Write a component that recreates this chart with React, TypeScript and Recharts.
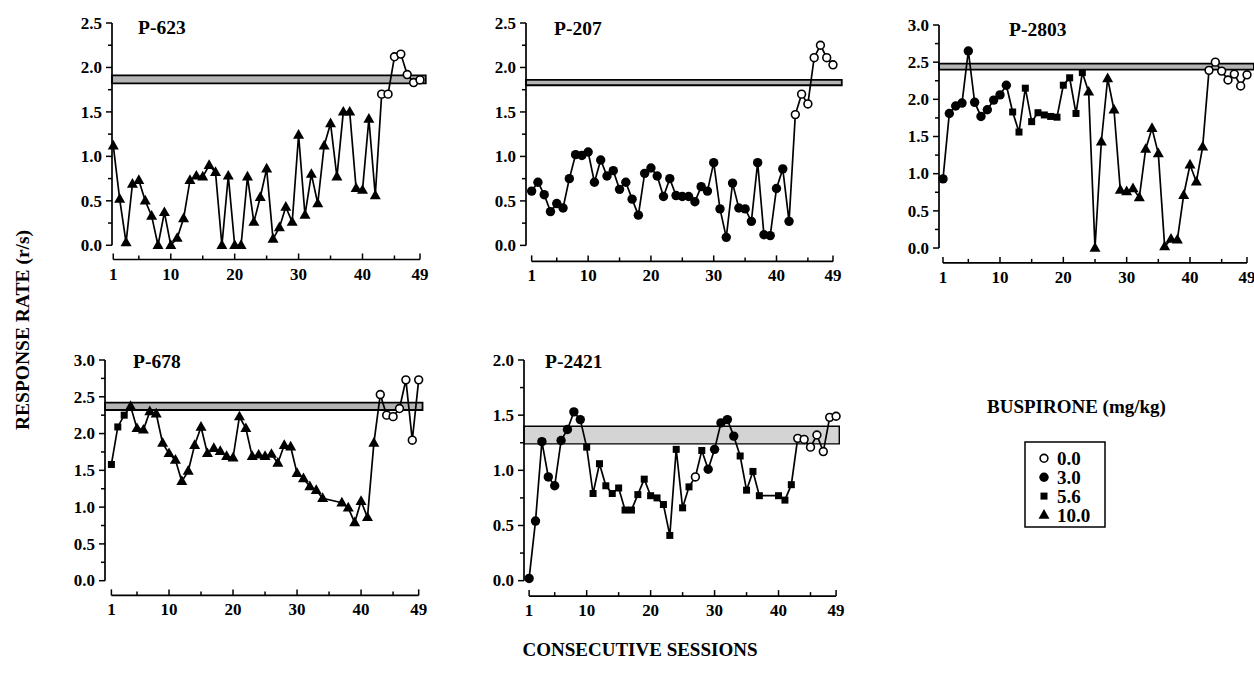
import React from 'react';
import { LineChart, Line, XAxis, YAxis, ReferenceArea, ReferenceLine } from 'recharts';

const FONT = "'Liberation Serif', 'Times New Roman', Times, serif";

// ---------- categories & ticks ----------
const SESSIONS = [
  1, 2, 3, 4, 5, 6, 7, 8, 9, 10, 11, 12, 13, 14, 15, 16, 17, 18, 19, 20,
  21, 22, 23, 24, 25, 26, 27, 28, 29, 30, 31, 32, 33, 34, 35, 36, 37, 38, 39, 40,
  41, 42, 43, 44, 45, 46, 47, 48, 49,
];
const X_TICKS = [1, 5, 10, 15, 20, 25, 30, 35, 40, 45, 49];
const X_LABELED = [1, 10, 20, 30, 40, 49];
const Y_TICKS_20 = [0, 0.25, 0.5, 0.75, 1, 1.25, 1.5, 1.75, 2];
const Y_TICKS_25 = [0, 0.25, 0.5, 0.75, 1, 1.25, 1.5, 1.75, 2, 2.25, 2.5];
const Y_TICKS_30 = [0, 0.25, 0.5, 0.75, 1, 1.25, 1.5, 1.75, 2, 2.25, 2.5, 2.75, 3];

const DOSE_LEVELS = [0, 3, 5.6, 10];
const DOSE_LABELS = ['0.0', '3.0', '5.6', '10.0'];

// ---------- series: response rate (r/s) per session ----------
const P623_RATE = [
  1.12, 0.52, 0.03, 0.69, 0.73, 0.5, 0.33, 0.0, 0.37, 0.0,
  0.08, 0.3, 0.73, 0.78, 0.77, 0.9, 0.82, 0.0, 0.78, 0.0,
  0.0, 0.77, 0.26, 0.54, 0.86, 0.07, 0.2, 0.43, 0.26, 1.24,
  0.34, 0.8, 0.47, 1.12, 1.37, 0.77, 1.5, 1.5, 0.64, 0.62,
  1.42, 0.56, 1.7, 1.7, 2.12, 2.15, 1.92, 1.83, 1.86,
];
const P623_DOSE = [
  10, 10, 10, 10, 10, 10, 10, 10, 10, 10,
  10, 10, 10, 10, 10, 10, 10, 10, 10, 10,
  10, 10, 10, 10, 10, 10, 10, 10, 10, 10,
  10, 10, 10, 10, 10, 10, 10, 10, 10, 10,
  10, 10, 0, 0, 0, 0, 0, 0, 0,
];

const P207_RATE = [
  0.61, 0.71, 0.57, 0.38, 0.47, 0.42, 0.75, 1.02, 1.01, 1.05,
  0.71, 0.96, 0.78, 0.84, 0.63, 0.71, 0.52, 0.34, 0.81, 0.87,
  0.78, 0.55, 0.75, 0.56, 0.55, 0.55, 0.49, 0.66, 0.61, 0.93,
  0.41, 0.09, 0.7, 0.42, 0.41, 0.27, 0.93, 0.12, 0.11, 0.64,
  0.86, 0.27, 1.47, 1.7, 1.59, 2.11, 2.25, 2.11, 2.03,
];
const P207_DOSE = [
  3, 3, 3, 3, 3, 3, 3, 3, 3, 3,
  3, 3, 3, 3, 3, 3, 3, 3, 3, 3,
  3, 3, 3, 3, 3, 3, 3, 3, 3, 3,
  3, 3, 3, 3, 3, 3, 3, 3, 3, 3,
  3, 3, 0, 0, 0, 0, 0, 0, 0,
];

const P2803_RATE = [
  0.93, 1.81, 1.91, 1.95, 2.65, 1.96, 1.77, 1.86, 1.99, 2.06,
  2.19, 1.83, 1.56, 2.15, 1.7, 1.82, 1.79, 1.77, 1.76, 2.19,
  2.29, 1.81, 2.36, 2.1, 0.0, 1.43, 2.28, 1.86, 0.78, 0.76,
  0.8, 0.68, 1.33, 1.61, 1.27, 0.02, 0.12, 0.11, 0.71, 1.12,
  0.89, 1.36, 2.39, 2.5, 2.38, 2.26, 2.34, 2.18, 2.33,
];
const P2803_DOSE = [
  3, 3, 3, 3, 3, 3, 3, 3, 3, 3,
  3, 5.6, 5.6, 5.6, 5.6, 5.6, 5.6, 5.6, 5.6, 5.6,
  5.6, 5.6, 5.6, 10, 10, 10, 10, 10, 10, 10,
  10, 10, 10, 10, 10, 10, 10, 10, 10, 10,
  10, 10, 0, 0, 0, 0, 0, 0, 0,
];

const P678_RATE = [
  1.58, 2.09, 2.25, 2.37, 2.07, 2.05, 2.3, 2.27, 1.87, 1.73,
  1.64, 1.35, 1.49, 1.84, 2.09, 1.73, 1.8, 1.76, 1.69, 1.67,
  2.23, 2.07, 1.69, 1.71, 1.69, 1.72, 1.6, 1.84, 1.82, 1.46,
  1.39, 1.28, 1.23, 1.12, null, null, 1.06, 0.99, 0.79, 1.08,
  0.86, 1.87, 2.53, 2.25, 2.23, 2.34, 2.73, 1.91, 2.73,
];
const P678_DOSE = [
  5.6, 5.6, 5.6, 10, 10, 10, 10, 10, 10, 10,
  10, 10, 10, 10, 10, 10, 10, 10, 10, 10,
  10, 10, 10, 10, 10, 10, 10, 10, 10, 10,
  10, 10, 10, 10, 10, 10, 10, 10, 10, 10,
  10, 10, 0, 0, 0, 0, 0, 0, 0,
];

const P2421_RATE = [
  0.02, 0.54, 1.26, 0.94, 0.86, 1.27, 1.37, 1.53, 1.46, 1.21,
  0.79, 1.06, 0.86, 0.79, 0.84, 0.64, 0.64, 0.78, 0.92, 0.77,
  0.75, 0.69, 0.41, 1.19, 0.66, 0.85, 0.94, 1.18, 1.01, 1.19,
  1.43, 1.46, 1.31, 1.13, 0.82, 0.99, 0.77, null, null, 0.77,
  0.73, 0.87, 1.29, 1.28, 1.21, 1.32, 1.17, 1.48, 1.49,
];
const P2421_DOSE = [
  3, 3, 3, 3, 3, 3, 3, 3, 3, 5.6,
  5.6, 5.6, 5.6, 5.6, 5.6, 5.6, 5.6, 5.6, 5.6, 5.6,
  5.6, 5.6, 5.6, 5.6, 5.6, 5.6, 0, 5.6, 3, 3,
  3, 3, 3, 5.6, 5.6, 5.6, 5.6, 5.6, 5.6, 5.6,
  5.6, 5.6, 0, 0, 0, 0, 0, 0, 0,
];

// baseline (saline) ranges shown as shaded bands
const P623_BAND = [1.82, 1.91];
const P207_BAND = [1.8, 1.86];
const P2803_BAND = [2.4, 2.48];
const P678_BAND = [2.32, 2.42];
const P2421_BAND = [1.24, 1.4];

// ---------- layout ----------
type Panel = {
  name: string;
  rate: (number | null)[];
  dose: number[];
  band: number[];
  yMax: number;
  yTicks: number[];
  plotLeft: number;
  plotTop: number;
  plotW: number;
  plotH: number;
  xLeft: number;
  yLow: number;
  bandEnd: number;
  mr: number;
  bandFill: string;
  bandStroke: number;
  titleX: number;
  titleY: number;
};

const PANELS: Panel[] = [
  {
    name: 'P-623', rate: P623_RATE, dose: P623_DOSE, band: P623_BAND, yMax: 2.5, yTicks: Y_TICKS_25,
    plotLeft: 112, plotTop: 22.7, plotW: 308, plotH: 236.5, xLeft: 0.8, yLow: -0.16, bandEnd: 49.9, mr: 20,
    bandFill: '#b4b4b4', bandStroke: 1.8, titleX: 138, titleY: 33.5,
  },
  {
    name: 'P-207', rate: P207_RATE, dose: P207_DOSE, band: P207_BAND, yMax: 2.5, yTicks: Y_TICKS_25,
    plotLeft: 526, plotTop: 23.3, plotW: 307, plotH: 238.4, xLeft: 0.1, yLow: -0.18, bandEnd: 50.4, mr: 20,
    bandFill: '#b4b4b4', bandStroke: 1.8, titleX: 554, titleY: 34.5,
  },
  {
    name: 'P-2803', rate: P2803_RATE, dose: P2803_DOSE, band: P2803_BAND, yMax: 3, yTicks: Y_TICKS_30,
    plotLeft: 939, plotTop: 25, plotW: 308, plotH: 237.9, xLeft: 0.37, yLow: -0.2, bandEnd: 50.1, mr: 7,
    bandFill: '#b4b4b4', bandStroke: 1.8, titleX: 1009, titleY: 36,
  },
  {
    name: 'P-678', rate: P678_RATE, dose: P678_DOSE, band: P678_BAND, yMax: 3, yTicks: Y_TICKS_30,
    plotLeft: 105.3, plotTop: 360, plotW: 313.7, plotH: 235.4, xLeft: 0, yLow: -0.2, bandEnd: 49.6, mr: 20,
    bandFill: '#b4b4b4', bandStroke: 1.8, titleX: 133, titleY: 368.3,
  },
  {
    name: 'P-2421', rate: P2421_RATE, dose: P2421_DOSE, band: P2421_BAND, yMax: 2, yTicks: Y_TICKS_20,
    plotLeft: 523.9, plotTop: 360, plotW: 312.1, plotH: 236.1, xLeft: 0.2, yLow: -0.14, bandEnd: 49.5, mr: 20,
    bandFill: '#d4d4d4', bandStroke: 1.4, titleX: 545, titleY: 368.3,
  },
];

const ML = 10;
const YW = 50;
const MT = 10;
const XH = 30;

function marker(dose: number, cx: number, cy: number, key?: any) {
  if (dose === 0) {
    return <circle key={key} cx={cx} cy={cy} r={3.9} fill="#fff" stroke="#000" strokeWidth={1.6} />;
  }
  if (dose === 3) {
    return <circle key={key} cx={cx} cy={cy} r={4.7} fill="#000" />;
  }
  if (dose === 5.6) {
    return <rect key={key} x={cx - 3.5} y={cy - 3.5} width={7} height={7} fill="#000" />;
  }
  return (
    <polygon
      key={key}
      points={`${cx},${cy - 6} ${cx - 5.5},${cy + 3.7} ${cx + 5.5},${cy + 3.7}`}
      fill="#000"
    />
  );
}

const renderDot = (p: any) => {
  const key = p.index;
  if (p.cx == null || p.cy == null || !Number.isFinite(p.cx) || !Number.isFinite(p.cy) || p.payload == null || p.payload.v == null) {
    return <g key={key} />;
  }
  return marker(p.payload.d, p.cx, p.cy, key);
};

const XTick = (props: any) => {
  const { x, y, payload } = props;
  const v = payload.value;
  const major = X_LABELED.includes(v);
  return (
    <g>
      <line x1={x} x2={x} y1={y} y2={y - (major ? 6 : 4)} stroke="#000" strokeWidth={1.5} />
      {major && (
        <text x={x} y={y + 20} textAnchor="middle" fontFamily={FONT} fontWeight="bold" fontSize={17} fill="#000">
          {v}
        </text>
      )}
    </g>
  );
};

const YTick = (props: any) => {
  const { x, y, payload } = props;
  const v = payload.value;
  const major = Math.abs(v * 2 - Math.round(v * 2)) < 1e-6;
  return (
    <g>
      <line x1={x} x2={x - (major ? 6 : 4)} y1={y} y2={y} stroke="#000" strokeWidth={1.5} />
      {major && (
        <text x={x - 10} y={y + 5.8} textAnchor="end" fontFamily={FONT} fontWeight="bold" fontSize={17} fill="#000">
          {v.toFixed(1)}
        </text>
      )}
    </g>
  );
};

function PanelChart({ p }: { p: Panel }) {
  const data = SESSIONS.map((s, i) => ({ s, v: p.rate[i], d: p.dose[i] }));
  const width = ML + YW + p.plotW + p.mr;
  const height = MT + p.plotH + XH;
  return (
    <div style={{ position: 'absolute', left: p.plotLeft - ML - YW, top: p.plotTop - MT }}>
      <LineChart width={width} height={height} data={data} margin={{ top: MT, right: p.mr, bottom: 0, left: ML }}>
        <XAxis
          dataKey="s"
          type="number"
          domain={[p.xLeft, 49]}
          ticks={X_TICKS}
          interval={0}
          axisLine={false}
          tickLine={false}
          tickSize={0}
          tickMargin={0}
          height={XH}
          tick={(tp: any) => <XTick {...tp} />}
        />
        <YAxis
          type="number"
          domain={[p.yLow, p.yMax]}
          ticks={p.yTicks}
          interval={0}
          axisLine={false}
          tickLine={false}
          tickSize={0}
          tickMargin={0}
          width={YW}
          tick={(tp: any) => <YTick {...tp} />}
        />
        <ReferenceArea
          x1={p.xLeft}
          x2={p.bandEnd}
          y1={p.band[0]}
          y2={p.band[1]}
          ifOverflow="visible"
          fill={p.bandFill}
          fillOpacity={1}
          stroke="#000"
          strokeWidth={p.bandStroke}
        />
        <ReferenceLine
          segment={[{ x: p.xLeft, y: 0 }, { x: p.xLeft, y: p.yMax }]}
          ifOverflow="visible"
          stroke="#000"
          strokeWidth={1.7}
        />
        <ReferenceLine
          segment={[{ x: 1, y: p.yLow }, { x: 49, y: p.yLow }]}
          ifOverflow="visible"
          stroke="#000"
          strokeWidth={1.7}
        />
        <Line
          type="linear"
          dataKey="v"
          stroke="#000"
          strokeWidth={1.7}
          connectNulls
          dot={renderDot}
          activeDot={false}
          isAnimationActive={false}
        />
      </LineChart>
    </div>
  );
}

export default function App() {
  return (
    <div style={{ position: 'absolute', left: 0, top: 0, width: 1254, height: 681, background: '#fff', overflow: 'hidden' }}>
      {PANELS.map((p) => (
        <PanelChart key={p.name} p={p} />
      ))}
      <svg
        width={1254}
        height={681}
        style={{ position: 'absolute', left: 0, top: 0, pointerEvents: 'none' }}
        fontFamily={FONT}
        fontWeight="bold"
      >
        {PANELS.map((p) => (
          <text key={p.name} x={p.titleX} y={p.titleY} fontSize={19.5} fill="#000">
            {p.name}
          </text>
        ))}
        <text transform="translate(22,330) rotate(-90)" x={0} y={6.5} textAnchor="middle" fontSize={19.5} fill="#000">
          RESPONSE RATE (r/s)
        </text>
        <text x={640} y={656} textAnchor="middle" fontSize={19} fill="#000">
          CONSECUTIVE SESSIONS
        </text>
        <text x={987} y={413} fontSize={19} fill="#000">
          BUSPIRONE (mg/kg)
        </text>
        <rect x={1025} y={442} width={80} height={85} fill="#fff" stroke="#000" strokeWidth={1.5} />
        {DOSE_LEVELS.map((d, i) => (
          <g key={d}>
            {marker(d, 1044, 458.3 + i * 18.9)}
            <text x={1057} y={458.3 + i * 18.9 + 6.5} fontSize={19} fill="#000">
              {DOSE_LABELS[i]}
            </text>
          </g>
        ))}
      </svg>
    </div>
  );
}
